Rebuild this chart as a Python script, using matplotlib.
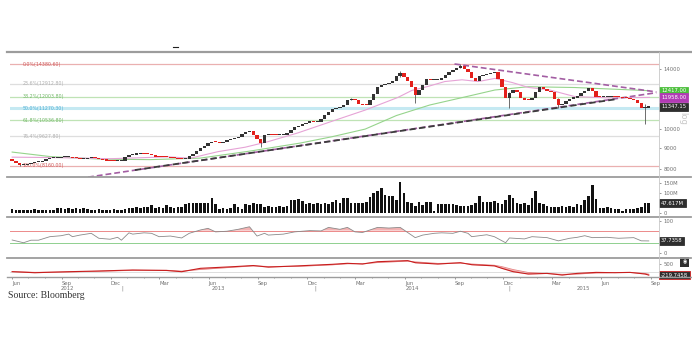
"""
Weekly price chart with volume, RSI and MACD panels (Bloomberg style)
"""
import matplotlib
matplotlib.use('Agg')
import matplotlib.pyplot as plt
import matplotlib.transforms as mtrans
from matplotlib.lines import Line2D
from matplotlib.ticker import FixedLocator, NullLocator
import numpy as np
import pandas as pd

W, H = 692, 338

UP     = "#333333"
DOWN   = "#e3201c"
SEP    = "#9c9c9c"
TICK   = "#707070"
PINK   = "#e6a3d6"
GREEN  = "#96d48c"
PURPLE = "#a35ea3"
DARK   = "#3c3c3c"

# ---------------- data ----------------
start = pd.Timestamp('2012-06-01')
open0 = 8460
closes = [
    8370, 8280, 8190, 8210, 8240, 8265, 8310, 8350, 8385, 8465,
    8510, 8520, 8535, 8545, 8545, 8550, 8540, 8505, 8465, 8465,
    8505, 8545, 8510, 8465, 8420, 8400, 8380, 8375, 8378, 8385,
    8560, 8660, 8685, 8710, 8745, 8730, 8715, 8670, 8575, 8565,
    8555, 8545, 8530, 8505, 8480, 8455, 8490, 8610, 8735, 8865,
    9010, 9135, 9260, 9340, 9325, 9280, 9340, 9420, 9475, 9505,
    9605, 9725, 9830, 9935, 9700, 9475, 9260, 9700, 9720, 9695,
    9665, 9675, 9700, 9800, 9960, 10130, 10215, 10310, 10390, 10440,
    10430, 10445, 10595, 10825, 11020, 11210, 11270, 11335, 11430, 11787,
    11853, 11787, 11530, 11435, 11430, 11820, 12190, 12710, 12820, 12870,
    12960, 13100, 13450, 13720, 13410, 13100, 12650, 12120, 12465, 12855,
    13280, 13150, 13183, 13220, 13330, 13562, 13760, 13946, 14065, 14220,
    13985, 13790, 13330, 13100, 13450, 13525, 13600, 13720, 13790, 13260,
    12710, 11900, 12255, 12500, 12325, 11920, 11820, 11787, 11900, 12320,
    12710, 12535, 12410, 12300, 11853, 11461, 11555, 11720, 11885, 11950,
    12085, 12255, 12395, 12585, 12430, 12010, 11955, 11955, 12010, 12025,
    12010, 11975, 11945, 11890, 11845, 11787, 11585, 11250, 11300, 11347.15,
]
volumes = [  # millions
    18, 15, 16, 14, 16, 15, 17, 16, 15, 14, 16, 12,
    22, 23, 21, 22, 20, 22, 21, 22, 20,
    16, 15, 17, 16, 15, 16, 17, 15, 16, 18, 22,
    25, 28, 24, 30, 27, 38, 26, 30, 25, 38, 28, 24, 27, 30,
    45, 48, 47, 50, 48, 47, 50, 72,
    45, 20, 22, 18, 25,
    43, 28, 20, 45, 40, 48, 42, 44,
    30, 32, 28, 30, 32, 30, 35,
    62, 65, 68, 60,
    45, 48, 43, 47, 42,
    50, 45, 55, 61, 50, 72,
    72, 47, 47, 50, 47, 55, 80, 97, 107, 122,
    88, 85, 85, 63, 155, 97, 55, 47, 33, 55,
    38, 52, 52, 10, 46, 46, 46, 46, 44, 38,
    33, 33, 36, 40, 47, 85, 52, 52, 54, 60,
    47, 44, 64, 88, 72, 47, 44, 47, 38, 72,
    108, 50, 45, 32, 30, 30, 30, 32, 30, 35,
    28, 45, 38, 63, 83, 138, 68, 22, 24, 30,
    22, 17, 17, 8, 17, 17, 18, 22, 27, 47, 47.617,
]

# notable wicks (week index, low, high)
wick_idx  = [2, 66, 90, 103, 107, 119, 132, 145, 168]
wick_low  = [8160, 9070, 11800, 13400, 11560, 14100, 11250, 11250, 10330]
wick_high = [8300, 9400, 11950, 13900, 12700, 14380.60, 12300, 11900, 11500]

fib_pct    = ['0.0%', '23.6%', '38.2%', '50.0%', '61.8%', '76.4%', '100.0%']
fib_levels = [14380.60, 12912.80, 12003.80, 11270.30, 10536.80, 9627.80, 8160.00]
fib_line   = ['#eab0b0', '#dedede', '#bfe3b5', '#c5e9f2', '#bfe3b5', '#dedede', '#eab0b0']
fib_text   = ['#d05a5a', '#b0b0b0', '#74b86a', '#4fb0d6', '#74b86a', '#b0b0b0', '#d05a5a']

ma_fast_dates = ['2012-06-01', '2012-08-29', '2012-11-30', '2013-03-18', '2013-04-28',
                 '2013-06-19', '2013-08-08', '2013-09-20', '2013-11-14', '2014-01-16',
                 '2014-03-19', '2014-05-19', '2014-06-14', '2014-07-14', '2014-08-14',
                 '2014-09-15', '2014-10-15', '2014-11-15', '2014-12-17', '2015-01-16',
                 '2015-02-25', '2015-04-13', '2015-06-17', '2015-08-29']
ma_fast = [8560, 8535, 8485, 8575, 8510, 8830, 9050, 9340, 9805, 10460,
           11140, 11960, 12440, 12720, 13070, 13200, 13070, 13300, 13000, 12650,
           12465, 12010, 11925, 11958]

ma_slow_dates = ['2012-06-01', '2012-08-11', '2012-11-11', '2013-02-12', '2013-05-16',
                 '2013-08-17', '2013-11-18', '2014-01-16', '2014-03-19', '2014-05-16',
                 '2014-07-17', '2014-09-16', '2014-11-15', '2015-01-16', '2015-04-13',
                 '2015-08-29']
ma_slow = [8807, 8587, 8467, 8442, 8513, 8856, 9261, 9594, 10016, 10805,
           11461, 11953, 12465, 12696, 12640, 12417]

trend_lo_dates  = ['2012-10-20', '2015-09-11']
trend_lo_prices = [7654, 12279]
trend_lo_core_dates  = ['2013-01-15', '2015-06-29']
trend_lo_core_prices = [7963, 11844]
trend_hi_dates  = ['2014-09-01', '2015-09-11']
trend_hi_prices = [14420, 12333]

rsi_weeks = [0, 2, 3, 5, 7, 10, 13, 15, 16, 18, 21, 23, 26, 28, 29, 31, 32, 35, 37, 39,
             42, 45, 47, 50, 52, 54, 57, 60, 63, 65, 67, 68, 72, 75, 79, 82, 84, 87, 89,
             91, 93, 95, 97, 100, 103, 107, 109, 112, 114, 117, 119, 121, 122, 126, 128,
             131, 132, 136, 138, 142, 145, 148, 150, 152, 154, 158, 161, 165, 167, 169]
rsi_vals = [40.6, 35, 32, 40, 40, 51, 54, 59, 51, 56, 61.5, 46, 43, 49, 40, 63, 59, 63, 61.5, 51,
            53, 47, 61.5, 72, 77, 66, 68, 74, 82, 53, 61.5, 56, 59, 66, 70, 69, 80, 74, 80,
            66, 64, 72, 80, 78, 80, 48, 56, 61.5, 63, 61.5, 68, 61.5, 51, 57, 51,
            32, 47, 44, 51, 48, 38, 46, 49, 54, 48, 49, 46, 48, 38, 37.7358]

macd_weeks = [0, 6, 15, 23, 32, 41, 45, 50, 59, 64, 68, 76, 85, 89, 93, 97, 105, 107, 113,
              119, 122, 128, 130, 133, 137, 142, 146, 150, 155, 160, 164, 168, 169]
macd_line = [0, -65, 0, 45, 110, 80, 0, 220, 330, 400, 300, 380, 480, 545, 500, 650, 720,
             585, 500, 585, 455, 380, 220, 0, -150, -110, -215, -110, -45, -65, -45, -150, -219.7]
macd_sig  = [10, -40, -20, 30, 90, 95, 40, 150, 300, 380, 340, 350, 450, 520, 520, 600, 690,
             640, 540, 560, 500, 420, 330, 140, -50, -120, -170, -150, -80, -60, -50, -110, -160]

months      = ['2012-06-01', '2012-09-01', '2012-12-01', '2013-03-01', '2013-06-01', '2013-09-01',
               '2013-12-01', '2014-03-01', '2014-06-01', '2014-09-01', '2014-12-01', '2015-03-01',
               '2015-06-01', '2015-09-01']
month_names = ['Jun', 'Sep', 'Dec', 'Mar', 'Jun', 'Sep', 'Dec', 'Mar', 'Jun', 'Sep', 'Dec',
               'Mar', 'Jun', 'Sep']
years       = ['2012', '2013', '2014', '2015']
year_pos    = ['2012-09-12', '2013-06-20', '2014-06-15', '2015-04-28']
year_breaks = ['2012-12-22', '2013-12-16', '2014-12-11']

# ---------------- derived ----------------
weeks = start + pd.to_timedelta(np.arange(len(closes)) * 7, unit='D')
c = np.array(closes, dtype=float)
o = np.array([open0] + closes[:-1], dtype=float)
X0, X1 = pd.Timestamp('2012-05-28'), pd.Timestamp('2015-09-16')

fig = plt.figure(figsize=(W / 100, H / 100), dpi=100)
L, R = 10, 659


def panel(top, bottom):
    ax = fig.add_axes([L / W, 1 - bottom / H, (R - L) / W, (bottom - top) / H])
    for s in ax.spines.values():
        s.set_visible(False)
    ax.set_facecolor('none')
    ax.yaxis.tick_right()
    ax.tick_params(axis='y', labelsize=3.8, colors=TICK, length=1.5, width=0.5, pad=1.5)
    ax.tick_params(axis='x', bottom=False, labelbottom=False)
    ax.set_xlim(X0, X1)
    return ax


def tag(ax, y, txt, fc, ec=None, color='white'):
    tr = mtrans.blended_transform_factory(ax.transAxes, ax.transData)
    ax.text(1.003, y, txt, transform=tr, fontsize=3.8, color=color, va='center', ha='left',
            bbox=dict(boxstyle='square,pad=0.3', fc=fc, ec=ec or fc, lw=0.6),
            clip_on=False, zorder=10)


# ---------------- price panel ----------------
ax = panel(52, 177)
ax.set_yscale('log')
ax.set_ylim(7660, 15420)
for lvl, lc, tc, pct in zip(fib_levels, fib_line, fib_text, fib_pct):
    ax.axhline(lvl, color=lc, lw=2.2 if pct == '50.0%' else 0.9, zorder=1)
    tr = mtrans.blended_transform_factory(ax.transAxes, ax.transData)
    ax.text(0.019, lvl, f'{pct}({lvl:.2f})', transform=tr, fontsize=3.4, color=tc,
            va='center', ha='left', zorder=2)

ax.plot(pd.to_datetime(ma_slow_dates), ma_slow, color=GREEN, lw=0.8, zorder=2)
ax.plot(pd.to_datetime(ma_fast_dates), ma_fast, color=PINK, lw=0.8, zorder=2)

ax.plot(pd.to_datetime(trend_lo_dates), trend_lo_prices, color=PURPLE, lw=1.2,
        dashes=(3.5, 1.8), zorder=4)
ax.plot(pd.to_datetime(trend_lo_core_dates), trend_lo_core_prices, color=DARK, lw=1.3,
        dashes=(3.5, 1.8), zorder=5)
ax.plot(pd.to_datetime(trend_hi_dates), trend_hi_prices, color=PURPLE, lw=1.2,
        dashes=(3.5, 1.8), zorder=4)

wd = weeks[wick_idx]
ax.vlines(wd, wick_low, wick_high, color='#555555', lw=0.6, zorder=3)
up = c >= o
body_lo = np.minimum(o, c)
body_h = np.maximum(np.abs(c - o), c * 0.006)
ax.bar(weeks, body_h, bottom=body_lo, width=6.2, color=np.where(up, UP, DOWN),
       edgecolor='none', zorder=6)

ax.yaxis.set_major_locator(FixedLocator([8000, 9000, 10000, 14000]))
ax.yaxis.set_minor_locator(NullLocator())
ax.set_yticklabels(['8000', '9000', '10000', '14000'])
tag(ax, ma_slow[-1], f'{ma_slow[-1]:.2f}', '#4cbf3c')
tag(ax, ma_fast[-1], f'{ma_fast[-1]:.2f}', '#b23bb5')
tag(ax, closes[-1], f'{closes[-1]:.2f}', '#2e2e2e')
ax.text(1.03, 0.47, 'log', transform=ax.transAxes, rotation=270, fontsize=6,
        color='#c8c8c8', va='center', ha='left')

# ---------------- volume panel ----------------
axv = panel(177, 217)
axv.bar(weeks, volumes, width=4.8, color='#111111', zorder=3)
axv.set_ylim(-21.5, 178.5)
axv.yaxis.set_major_locator(FixedLocator([0, 100, 150]))
axv.set_yticklabels(['0', '100M', '150M'])
tag(axv, volumes[-1], f'{volumes[-1]:.3f}M', '#2e2e2e')

# ---------------- RSI panel ----------------
axr = panel(217, 257.7)
axr.set_ylim(-14.7, 112.5)
axr.axhline(70, color='#ec8a8a', lw=0.7)
axr.axhline(30, color='#8fd08f', lw=0.7)
rd = weeks[0] + pd.to_timedelta(np.array(rsi_weeks) * 7, unit='D')
rv = np.array(rsi_vals)
axr.fill_between(rd, rv, 70, where=rv > 70, interpolate=True, color='#f3b3b3', lw=0)
axr.plot(rd, rv, color='#8a8a8a', lw=0.6)
axr.yaxis.set_major_locator(FixedLocator([0, 100]))
axr.set_yticklabels(['0', '100'])
tag(axr, rsi_vals[-1], f'{rsi_vals[-1]:.4f}', '#2e2e2e')

# ---------------- MACD panel ----------------
axm = panel(257.7, 277.3)
axm.set_ylim(-364, 910)
axm.axhline(0, color='#d8d8d8', lw=0.6)
md = weeks[0] + pd.to_timedelta(np.array(macd_weeks) * 7, unit='D')
axm.fill_between(md, macd_line, macd_sig, color='#f4b4b4', lw=0)
axm.plot(md, macd_sig, color='#e58080', lw=0.6)
axm.plot(md, macd_line, color='#c81e1e', lw=0.8)
axm.yaxis.set_major_locator(FixedLocator([500]))
axm.set_yticklabels(['500'])
tag(axm, macd_line[-1], '-219.7458', '#2e2e2e', ec='#d02020')
axm.text(1.036, 0.8, '\u25c9', transform=axm.transAxes, fontsize=3.6, color='white',
         va='center', ha='left', bbox=dict(boxstyle='square,pad=0.5', fc='#2e2e2e', ec='none'))

axm.set_xticks(pd.to_datetime(months))
axm.set_xticklabels(month_names, ha='left')
axm.xaxis.set_minor_locator(FixedLocator(
    matplotlib.dates.date2num(pd.date_range('2012-06-01', '2015-09-01', freq='MS'))))
axm.tick_params(axis='x', which='both', bottom=True, labelbottom=True, length=1.5,
                width=0.5, colors=TICK, labelsize=3.8, pad=1)
axm.tick_params(axis='x', which='minor', length=1)
trm = mtrans.blended_transform_factory(axm.transData, axm.transAxes)
for yr, pos in zip(years, year_pos):
    axm.text(pd.Timestamp(pos), -0.42, yr, transform=trm, fontsize=3.8, color=TICK,
             ha='center', va='top')
for pos in year_breaks:
    axm.text(pd.Timestamp(pos), -0.42, '|', transform=trm, fontsize=3.5, color=TICK,
             ha='center', va='top')

# ---------------- frame lines ----------------
for y, lw in [(52, 1.6), (177, 1.3), (217, 1.3), (257.7, 1.3), (277.3, 1.0)]:
    fig.add_artist(Line2D([7 / W, 691 / W], [1 - y / H, 1 - y / H], color=SEP, lw=lw))
fig.add_artist(Line2D([R / W, R / W], [1 - 52 / H, 1 - 277.3 / H], color='#c8c8c8', lw=0.6))
fig.add_artist(Line2D([173 / W, 178 / W], [1 - 47 / H, 1 - 47 / H], color='#222222', lw=0.8))

fig.text(8 / W, 1 - 296 / H, 'Source: Bloomberg', family='Liberation Serif', fontsize=7,
         color='#333333', va='center', ha='left')

fig.savefig('out.png', dpi=100, facecolor='white')
plt.close()
